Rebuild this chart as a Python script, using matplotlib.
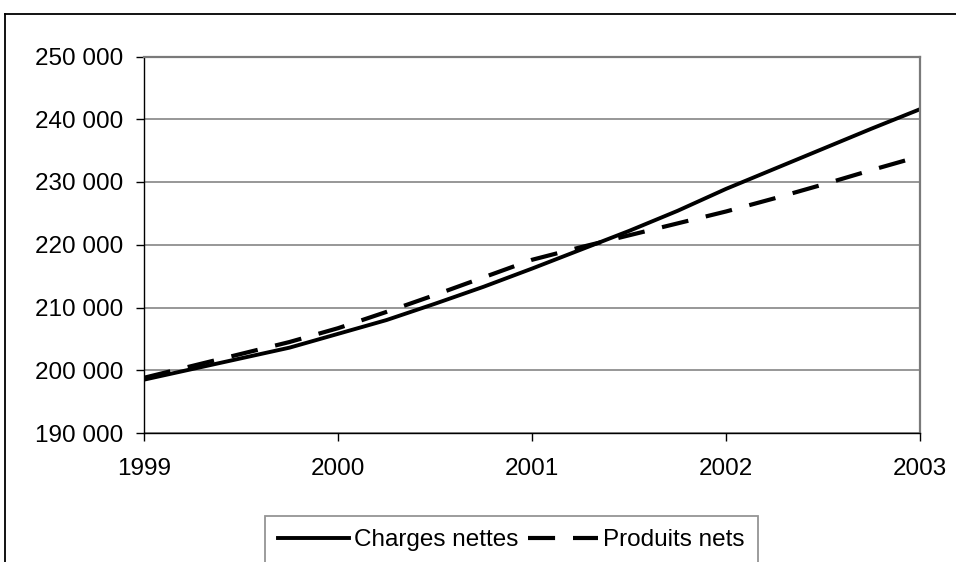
import matplotlib.pyplot as plt
from matplotlib.lines import Line2D
from matplotlib.ticker import FuncFormatter, MultipleLocator

plt.rcParams['font.family'] = ['Liberation Sans', 'DejaVu Sans']

# données trimestrielles, 1999 T1 -> 2003 T1
trimestres = [1999.0, 1999.25, 1999.5, 1999.75,
              2000.0, 2000.25, 2000.5, 2000.75,
              2001.0, 2001.25, 2001.5, 2001.75,
              2002.0, 2002.25, 2002.5, 2002.75,
              2003.0]
charges_nettes = [198500, 200200, 201900, 203600,
                  205800, 208000, 210600, 213300,
                  216200, 219200, 222200, 225400,
                  228900, 232100, 235300, 238500,
                  241600]
produits_nets = [198800, 200700, 202600, 204500,
                 206700, 209300, 212000, 214800,
                 217600, 219600, 221500, 223400,
                 225300, 227400, 229600, 231900,
                 234100]
annees = [1999, 2000, 2001, 2002, 2003]

W, H = 956, 562
fig = plt.figure(figsize=(W / 100, H / 100), dpi=100)
ax = fig.add_axes([144 / W, 1 - 433 / H, 776 / W, 376.5 / H])

ax.plot(trimestres, charges_nettes, color='black', lw=2.8,
        solid_joinstyle='round', label='Charges nettes')
ax.plot(trimestres, produits_nets, color='black', lw=3.0,
        dashes=(6.5, 4.3), dash_capstyle='butt', label='Produits nets')

ax.set_xlim(1999, 2003)
ax.set_ylim(190000, 250000)
ax.set_xticks(annees)
ax.set_xticklabels([str(a) for a in annees])
ax.yaxis.set_major_locator(MultipleLocator(10000))
ax.yaxis.set_major_formatter(FuncFormatter(lambda v, p: f"{int(v):,}".replace(",", " ")))

ax.grid(axis='y', color='#7a7a7a', lw=1.1)
ax.set_axisbelow(True)
for side in ('top', 'right'):
    ax.spines[side].set_color('#7a7a7a')
    ax.spines[side].set_linewidth(1.6)
for side in ('left', 'bottom'):
    ax.spines[side].set_color('black')
    ax.spines[side].set_linewidth(1.0)
ax.tick_params(axis='both', direction='out', length=6, width=1.0,
               colors='black', labelsize=17.5)
ax.tick_params(axis='y', pad=9)
ax.tick_params(axis='x', pad=12)

leg = fig.legend(loc='center', bbox_to_anchor=(511.5 / W, 1 - 540 / H),
                 ncol=2, fontsize=17.5, frameon=True, fancybox=False,
                 handlelength=2.9, handletextpad=0.2, columnspacing=0.4,
                 borderpad=0.55, borderaxespad=0)
leg.get_frame().set_edgecolor('#7a7a7a')
leg.get_frame().set_linewidth(1.3)

# cadre du graphique
fig.add_artist(Line2D([5 / W, 5 / W], [0, 1 - 14 / H], color='black', lw=1.3))
fig.add_artist(Line2D([5 / W, 1], [1 - 14 / H, 1 - 14 / H], color='black', lw=1.3))

fig.savefig('out.png', dpi=100)
